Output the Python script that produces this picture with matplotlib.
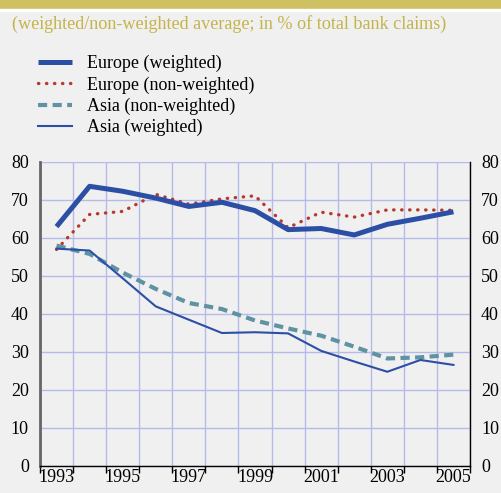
import matplotlib.pyplot as plt
import numpy as np
from matplotlib.patches import Rectangle

years = np.arange(1993, 2006)
europe_weighted = [63.0, 73.6, 72.3, 70.5, 68.3, 69.4, 67.2, 62.2, 62.5, 60.8, 63.6, 65.2, 66.9]
europe_nonweighted = [57.0, 66.2, 67.0, 71.5, 68.9, 70.3, 71.1, 62.7, 66.8, 65.5, 67.4, 67.4, 67.3]
asia_nonweighted = [58.0, 55.8, 50.9, 46.6, 42.9, 41.3, 38.3, 36.2, 34.3, 31.4, 28.3, 28.6, 29.3]
asia_weighted = [57.2, 56.7, 49.4, 42.0, 38.5, 35.0, 35.2, 34.9, 30.3, 27.5, 24.8, 27.9, 26.6]

labelled_years = [1993, 1995, 1997, 1999, 2001, 2003, 2005]
yticks = [0, 10, 20, 30, 40, 50, 60, 70, 80]

bg = '#f0f0f0'
serif = ['Liberation Serif', 'DejaVu Serif']
plt.rcParams['font.family'] = serif

W, H = 501, 493
fig = plt.figure(figsize=(W / 100, H / 100), dpi=100, facecolor=bg)

# gold band on top
fig.patches.append(Rectangle((0, 1 - 9 / H), 1, 9 / H, transform=fig.transFigure,
                             color='#cfc062', zorder=0))
fig.patches.append(Rectangle((0, 1 - 11 / H), 1, 2 / H, transform=fig.transFigure,
                             color='white', zorder=0))

fig.text(12 / W, 1 - 24 / H, '(weighted/non-weighted average; in % of total bank claims)',
         color='#c4b44a', fontsize=13.1, va='center', ha='left')

ax = fig.add_axes([40 / W, 27 / H, 430 / W, 304 / H])
ax.set_facecolor(bg)

x = years + 0.5
l1, = ax.plot(x, europe_weighted, color='#2c4fa6', lw=3.6, solid_capstyle='butt',
              label='Europe (weighted)', zorder=4)
l2, = ax.plot(x, europe_nonweighted, color='#b5392c', lw=2.4, linestyle=(0, (0.1, 2.3)),
              dash_capstyle='round', label='Europe (non-weighted)', zorder=3)
l3, = ax.plot(x, asia_nonweighted, color='#5f93a3', lw=3.0, linestyle=(0, (2.2, 1.3)),
              label='Asia (non-weighted)', zorder=3)
l4, = ax.plot(x, asia_weighted, color='#2c4fa6', lw=1.5, label='Asia (weighted)', zorder=4)

ax.set_xlim(1993, 2006)
ax.set_ylim(0, 80)
ax.set_xticks(np.arange(1993, 2007))
ax.set_xticklabels([])
ax.set_xticks([yr + 0.5 for yr in labelled_years], minor=True)
ax.set_xticklabels([str(yr) for yr in labelled_years], minor=True, fontsize=13)
ax.tick_params(axis='x', which='major', direction='out', length=5, width=1, color='black')
ax.tick_params(axis='x', which='minor', length=0, pad=2)

ax.set_yticks(yticks)
ax.tick_params(axis='y', length=0, labelsize=13, labelleft=True, labelright=True, pad=8)

ax.grid(True, which='major', color='#b4bbe8', lw=1)
ax.set_axisbelow(True)

ax.spines['top'].set_visible(False)
ax.spines['left'].set_color('#666666')
ax.spines['left'].set_linewidth(2)
ax.spines['right'].set_color('black')
ax.spines['right'].set_linewidth(1)
ax.spines['bottom'].set_color('black')
ax.spines['bottom'].set_linewidth(1)

fig.legend(handles=[l1, l2, l3, l4], loc='upper left', bbox_to_anchor=(38 / W, 1 - 55 / H),
           frameon=False, fontsize=13, handlelength=1.88, handletextpad=0.83,
           labelspacing=0.22, borderaxespad=0, borderpad=0)

fig.savefig('out.png', dpi=100, facecolor=bg)
